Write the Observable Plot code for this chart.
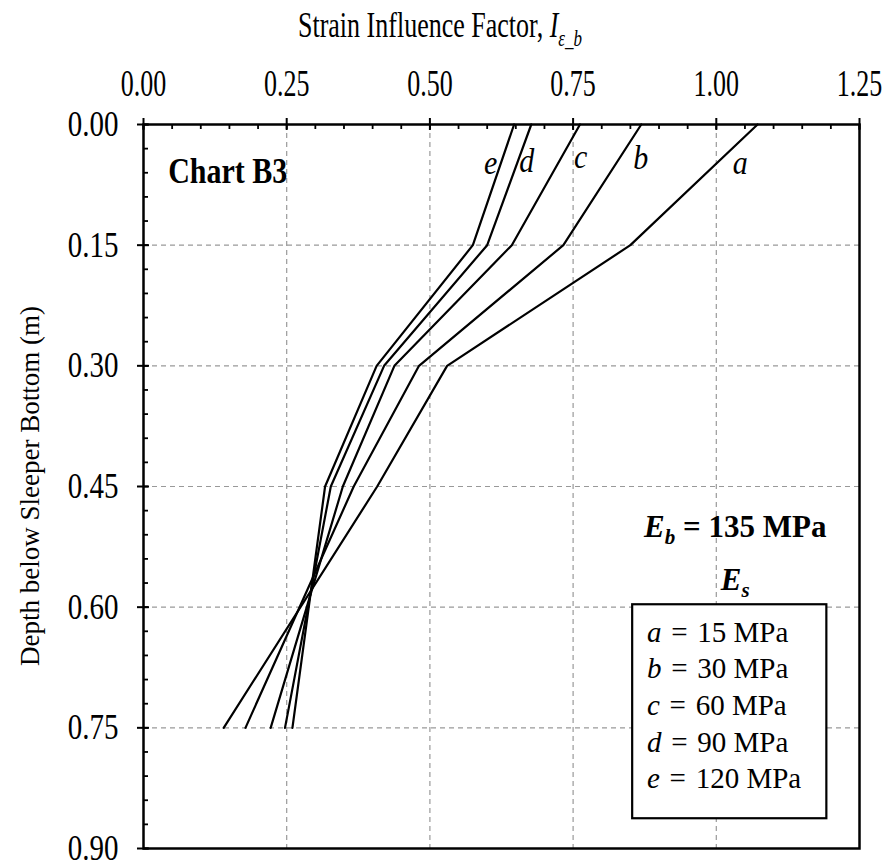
<!DOCTYPE html>
<html><head><meta charset="utf-8">
<script src="https://cdn.jsdelivr.net/npm/d3@7"></script>
<script src="https://cdn.jsdelivr.net/npm/@observablehq/plot@0.6"></script>
<style>
body{margin:0;background:#fff;}
#title{width:880px;height:50px;text-align:center;font-family:"Liberation Serif","Times New Roman",serif;font-size:26px;line-height:56px;color:#000;white-space:nowrap;}
#title span{display:inline-block;transform:scaleY(1.35);transform-origin:center;}
#title sub{font-size:17px;}
#chart{height:818px;}
#chart svg{display:block;}
.st12{transform-box:fill-box;transform-origin:center;transform:scaleY(1.2);}
</style></head><body>
<div id="title"><span>Strain Influence Factor, <i>I</i><sub><i>ε_b</i></sub></span></div>
<div id="chart"></div>
<script>
// ---- data ----
const depths = [0, 0.15, 0.30, 0.45, 0.75];
const curveA = [1.072, 0.850, 0.530, 0.408, 0.140];
const curveB = [0.869, 0.733, 0.481, 0.367, 0.178];
const curveC = [0.762, 0.643, 0.438, 0.348, 0.222];
const curveD = [0.677, 0.600, 0.420, 0.327, 0.247];
const curveE = [0.647, 0.575, 0.407, 0.317, 0.260];
const seriesNames = ["a", "b", "c", "d", "e"];
const seriesEs = ["15", "30", "60", "90", "120"];
const xTicks = [0, 0.25, 0.5, 0.75, 1.0, 1.25];
const yTicks = [0, 0.15, 0.30, 0.45, 0.60, 0.75, 0.90];
const xGrid = [0.25, 0.5, 0.75, 1.0];
const yGrid = [0.15, 0.30, 0.45, 0.60, 0.75];
const xMinor = d3.range(0, 1.2501, 0.05);
const yMinor = d3.range(0, 0.9001, 0.03);
// label anchors for curve letters (data units)
const labelX = [1.042, 0.868, 0.763, 0.669, 0.606];
const labelDepth = [0.048, 0.042, 0.041, 0.046, 0.048];

const curves = [curveA, curveB, curveC, curveD, curveE];
const rows = seriesNames.flatMap((n, i) => depths.map((d, j) => ({series: n, depth: d, value: curves[i][j]})));

const W = 895, H = 818, mT = 74, mB = 20, mL = 143, mR = 36;
const plotH = H - mT - mB, plotW = W - mL - mR;
const ff = "Liberation Serif, Times New Roman, serif";

const chart = Plot.plot({
  width: W, height: H,
  marginTop: mT, marginBottom: mB, marginLeft: mL, marginRight: mR,
  style: {fontFamily: ff, fontSize: "24px", color: "#000", background: "#fff"},
  x: {domain: [0, 1.25]},
  y: {domain: [0, 0.9], reverse: true},
  marks: [
    Plot.gridX(xGrid, {stroke: "#999", strokeOpacity: 1, strokeWidth: 1.2, strokeDasharray: "5,4"}),
    Plot.gridY(yGrid, {stroke: "#999", strokeOpacity: 1, strokeWidth: 1.2, strokeDasharray: "5,4"}),
    Plot.line(rows, {x: "value", y: "depth", z: "series", stroke: "#000", strokeWidth: 2.2}),
    Plot.tickX(xMinor, {x: d => d, insetBottom: plotH - 5, stroke: "#000", strokeWidth: 1.8}),
    Plot.tickX(xTicks, {x: d => d, insetTop: -6, insetBottom: plotH - 6, stroke: "#000", strokeWidth: 2}),
    Plot.tickY(yMinor, {y: d => d, insetRight: plotW - 5, stroke: "#000", strokeWidth: 1.8}),
    Plot.tickY(yTicks, {y: d => d, insetLeft: -6, insetRight: plotW - 6, stroke: "#000", strokeWidth: 2}),
    Plot.frame({stroke: "#000", strokeWidth: 2.5}),
    Plot.axisX(xTicks, {anchor: "top", tickSize: 0, tickPadding: 32, tickFormat: d3.format(".2f"), fontSize: 26, label: null, className: "xlab"}),
    Plot.axisY(yTicks, {anchor: "left", tickSize: 0, tickPadding: 25, tickFormat: d3.format(".2f"), fontSize: 29, label: null, className: "ylab"}),
    Plot.text(seriesNames, {x: labelX, y: labelDepth, text: d => d, fontStyle: "italic", fontSize: 30, fill: "#000", className: "clab"})
  ]
});
document.getElementById("chart").appendChild(chart);

// vertical stretch of text glyphs about their own centre (keeps Plot's placement)
function stretch(selector, s) {
  chart.querySelectorAll(selector).forEach(t => {
    const b = t.getBBox();
    const cy = b.y + b.height / 2;
    const tr = t.getAttribute("transform") || "";
    t.setAttribute("transform", `${tr} translate(0,${cy}) scale(1,${s}) translate(0,${-cy})`);
  });
}
stretch(".xlab text", 1.45);
stretch(".ylab text", 1.22);
stretch(".clab text", 1.1);

const xs = chart.scale("x"), ys = chart.scale("y");
const X = v => xs.apply(v), Y = v => ys.apply(v);
const svg = d3.select(chart);

// y axis title
svg.append("text")
  .attr("transform", `translate(30,${(Y(0) + Y(0.9)) / 2}) rotate(-90)`)
  .attr("text-anchor", "middle").attr("dy", "0.32em")
  .attr("font-family", ff).attr("font-size", 27).attr("fill", "#000")
  .text("Depth below Sleeper Bottom (m)");

// Chart B3
svg.append("text").attr("x", X(0.044)).attr("y", Y(0.058)).attr("dy", "0.35em")
  .attr("text-anchor", "start").attr("class", "st12")
  .attr("font-family", ff).attr("font-size", 30).attr("font-weight", "bold").attr("fill", "#000")
  .text("Chart B3");

// E_b = 135 MPa
const eb = svg.append("text").attr("x", X(1.034)).attr("y", Y(0.513))
  .attr("text-anchor", "middle").attr("font-family", ff).attr("font-size", 31).attr("font-weight", "bold").attr("fill", "#000");
eb.append("tspan").attr("font-style", "italic").text("E");
eb.append("tspan").attr("font-style", "italic").attr("font-size", 21).attr("dy", 7).text("b");
eb.append("tspan").attr("dy", -7).text(" = 135 MPa");

// E_s
const es = svg.append("text").attr("x", X(1.034)).attr("y", Y(0.579))
  .attr("text-anchor", "middle").attr("font-family", ff).attr("font-size", 31).attr("font-weight", "bold").attr("fill", "#000");
es.append("tspan").attr("font-style", "italic").text("E");
es.append("tspan").attr("font-style", "italic").attr("font-size", 21).attr("dy", 7).text("s");

// legend box
svg.append("rect")
  .attr("x", X(0.854)).attr("y", Y(0.597))
  .attr("width", X(1.193) - X(0.854)).attr("height", Y(0.863) - Y(0.597))
  .attr("fill", "#fff").attr("stroke", "#000").attr("stroke-width", 2.2);
seriesNames.forEach((n, i) => {
  const t = svg.append("text").attr("x", X(0.880)).attr("y", Y(0.6436 + i * 0.0455))
    .attr("text-anchor", "start")
    .attr("font-family", ff).attr("font-size", 29).attr("fill", "#000");
  t.append("tspan").attr("font-style", "italic").text(n);
  t.append("tspan").text(`\u2004=\u2004${seriesEs[i]} MPa`);
});
</script>
</body></html>
